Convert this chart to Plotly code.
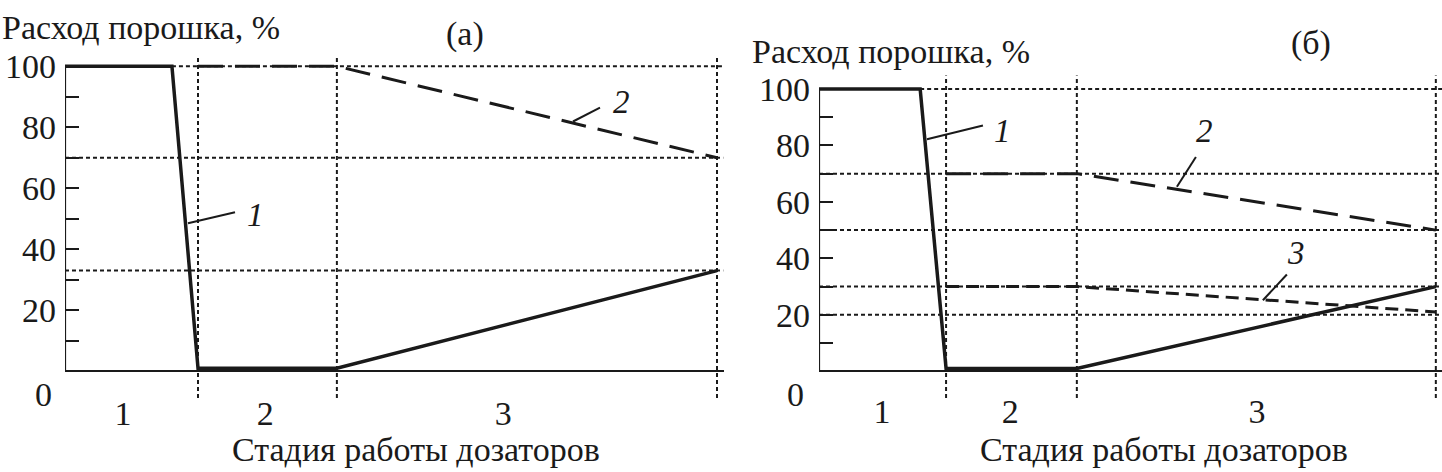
import plotly.graph_objects as go

W, H = 1442, 472
FONT = "'Liberation Serif', 'Times New Roman', Times, serif"

# ---------------- data ----------------
# panel (а)
x_curve1_a = [0, 16.4, 20.4, 41.7, 100]
y_curve1_a = [100, 100, 1, 1, 33]
x_curve2_a = [20.4, 41.7, 100]
y_curve2_a = [100, 100, 70]
stage_bounds_a = [20.4, 41.7, 100]
hlevels_a = [100, 70, 33]
hstart_a = [16.4, 0, 0]
stage_label_x_a = [8.9, 30.7, 67.2]

# panel (б)
x_curve1_b = [0, 16.4, 20.6, 41.8, 100]
y_curve1_b = [100, 100, 1, 1, 30]
x_curve23_b = [20.6, 41.8, 100]
y_curve2_b = [70, 70, 50]
y_curve3_b = [30, 30, 21]
stage_bounds_b = [20.6, 41.8, 100]
hlevels_b = [100, 70, 50, 30, 20]
hstart_b = [16.4, 0, 0, 0, 0]
stage_label_x_b = [10.2, 31.0, 71.0]

stage_labels = ["1", "2", "3"]
y_tickvals = list(range(0, 101, 10))
y_ticktext = ["" if (v % 20 or v == 0) else str(v) for v in y_tickvals]

y_title = "Расход порошка, %"
x_title = "Стадия работы дозаторов"
panel_titles = ["(а)", "(б)"]

# ---------------- geometry (pixels) ----------------
XR = [0, 101]
geo = {
    "a": dict(x0=65, sx=6.52, y0=370, sy=3.09, yr=[-10, 104]),
    "b": dict(x0=819, sx=6.17, y0=370, sy=2.86, yr=[-10, 106]),
}


def xdom(g):
    return [g["x0"] / W, min(1.0, (g["x0"] + XR[1] * g["sx"]) / W)]


def ydom(g):
    top = g["y0"] - g["yr"][1] * g["sy"]
    bot = g["y0"] - g["yr"][0] * g["sy"]
    return [1 - bot / H, 1 - top / H]


def dx(g, px):
    return (px - g["x0"]) / g["sx"]


def dy(g, py):
    return (g["y0"] - py) / g["sy"]


fig = go.Figure()

ink = "#1a1a1a"
solid = dict(color=ink, width=3.5)
fig.add_trace(go.Scatter(x=x_curve1_a, y=y_curve1_a, mode="lines", line=solid,
                         xaxis="x", yaxis="y", showlegend=False, hoverinfo="skip"))
fig.add_trace(go.Scatter(x=x_curve2_a, y=y_curve2_a, mode="lines",
                         line=dict(color=ink, width=3, dash="25px,12px"),
                         xaxis="x", yaxis="y", showlegend=False, hoverinfo="skip"))
fig.add_trace(go.Scatter(x=x_curve1_b, y=y_curve1_b, mode="lines", line=solid,
                         xaxis="x2", yaxis="y2", showlegend=False, hoverinfo="skip"))
fig.add_trace(go.Scatter(x=x_curve23_b, y=y_curve2_b, mode="lines",
                         line=dict(color=ink, width=3, dash="25px,12px"),
                         xaxis="x2", yaxis="y2", showlegend=False, hoverinfo="skip"))
fig.add_trace(go.Scatter(x=x_curve23_b, y=y_curve3_b, mode="lines",
                         line=dict(color=ink, width=3, dash="13px,7px"),
                         xaxis="x2", yaxis="y2", showlegend=False, hoverinfo="skip"))

shapes = []
dot = dict(color=ink, width=2, dash="4px,3px")


def panel_shapes(g, xr, yr, bounds, levels, starts):
    for lv, st in zip(levels, starts):
        shapes.append(dict(type="line", xref=xr, yref=yr, x0=st, x1=XR[1], y0=lv, y1=lv,
                           line=dot, layer="below"))
    for b in bounds:
        shapes.append(dict(type="line", xref=xr, yref=yr, x0=b, x1=b,
                           y0=dy(g, 397), y1=g["yr"][1] - 1.2, line=dot, layer="below"))
    shapes.append(dict(type="line", xref=xr, yref=yr, x0=0, x1=0, y0=0, y1=100,
                       line=dict(color=ink, width=2.2)))


panel_shapes(geo["a"], "x", "y", stage_bounds_a, hlevels_a, hstart_a)
panel_shapes(geo["b"], "x2", "y2", stage_bounds_b, hlevels_b, hstart_b)

leaders = [
    ("a", "x", "y", (188, 220), (235, 209)),
    ("a", "x", "y", (573, 117), (600, 103)),
    ("b", "x2", "y2", (927, 135), (983, 121)),
    ("b", "x2", "y2", (1177, 183), (1196, 153)),
    ("b", "x2", "y2", (1263, 298), (1287, 272)),
]
for key, xr, yr, p0, p1 in leaders:
    g = geo[key]
    shapes.append(dict(type="line", xref=xr, yref=yr, x0=dx(g, p0[0]), y0=dy(g, p0[1]),
                       x1=dx(g, p1[0]), y1=dy(g, p1[1]), line=dict(color=ink, width=2)))

annotations = []
tf = dict(family=FONT, size=34, color=ink)
lf = dict(family=FONT, size=33, color=ink)
curve_labels = [
    ("a", "x", "y", "1", (255, 212)),
    ("a", "x", "y", "2", (621, 97)),
    ("b", "x2", "y2", "1", (1003, 127)),
    ("b", "x2", "y2", "2", (1205, 127)),
    ("b", "x2", "y2", "3", (1296, 250)),
]
for key, xr, yr, t, (px, py) in curve_labels:
    g = geo[key]
    annotations.append(dict(xref=xr, yref=yr, x=dx(g, px), y=dy(g, py), text=f"<i>{t}</i>",
                            showarrow=False, font=lf, xanchor="center", yanchor="middle"))


def pap(px, py, text, xanchor="center"):
    annotations.append(dict(xref="paper", yref="paper", x=px / W, y=1 - py / H, text=text,
                            showarrow=False, font=tf, xanchor=xanchor, yanchor="middle"))


pap(0, 22, y_title, "left")
pap(750, 46, y_title, "left")
pap(465, 28, panel_titles[0])
pap(1311, 37, panel_titles[1])
pap(416, 449, x_title)
pap(1164, 449, x_title)
pap(43, 393, "0")
pap(795, 393, "0")

axis_common_y = dict(tickvals=y_tickvals, ticktext=y_ticktext, ticks="inside", ticklen=14,
                     tickwidth=2, tickcolor=ink, showgrid=False, showline=False,
                     zeroline=True, zerolinecolor=ink, zerolinewidth=2,
                     tickfont=tf, ticklabelstandoff=8, fixedrange=True)
axis_common_x = dict(range=XR, ticks="", showgrid=False, showline=False, zeroline=False,
                     tickfont=tf, ticktext=stage_labels, ticklabelstandoff=-12, fixedrange=True)

fig.update_layout(
    width=W, height=H,
    margin=dict(l=0, r=0, t=0, b=0),
    paper_bgcolor="white", plot_bgcolor="white",
    font=dict(family=FONT, color=ink),
    hovermode=False,
    xaxis=dict(domain=xdom(geo["a"]), anchor="y", tickvals=stage_label_x_a, **axis_common_x),
    yaxis=dict(domain=ydom(geo["a"]), anchor="x", range=geo["a"]["yr"], **axis_common_y),
    xaxis2=dict(domain=xdom(geo["b"]), anchor="y2", tickvals=stage_label_x_b, **axis_common_x),
    yaxis2=dict(domain=ydom(geo["b"]), anchor="x2", range=geo["b"]["yr"], **axis_common_y),
    shapes=shapes,
    annotations=annotations,
)

fig.write_html("out.html", config={"displayModeBar": False, "staticPlot": True},
               post_script="document.body.style.margin='0';document.body.style.overflow='hidden';")
